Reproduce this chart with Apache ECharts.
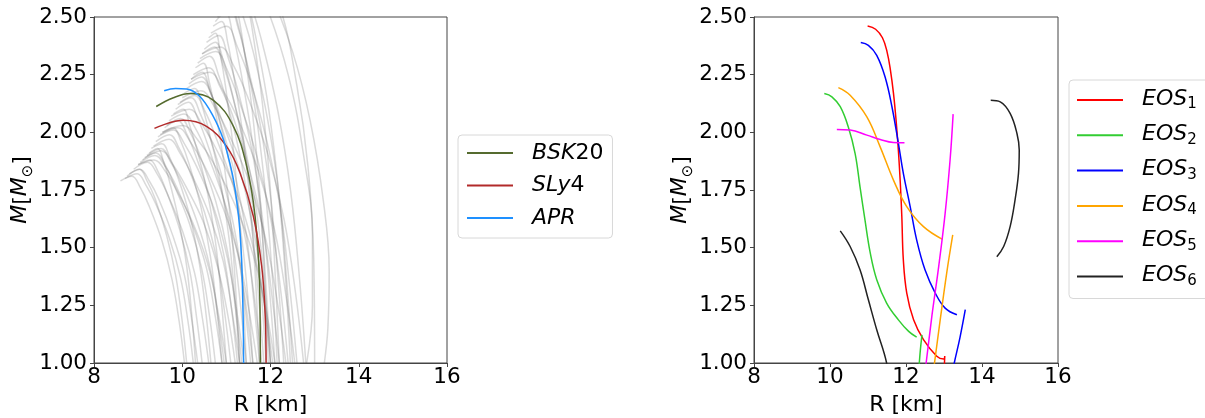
<!DOCTYPE html>
<html>
<head>
<meta charset="utf-8">
<script src="https://cdn.jsdelivr.net/npm/echarts@6/dist/echarts.min.js"></script>
<style>
  html, body { margin: 0; padding: 0; background: #fff; }
  #chart { width: 1205px; height: 418px; }
</style>
</head>
<body>
<div id="chart"></div>
<script>
// axis ticks
const xTicks = [8, 10, 12, 14, 16];
const yTicks = [1.0, 1.25, 1.5, 1.75, 2.0, 2.25, 2.5];

// left panel: reference EOS curves [R km, M Msun]
const bsk20 = [[9.41, 2.112], [9.8, 2.15], [10.18, 2.168], [10.7, 2.14], [11.16, 2.026], [11.46, 1.853], [11.65, 1.637], [11.75, 1.35], [11.77, 1.0]];
const sly4 = [[9.37, 2.017], [10.03, 2.052], [10.55, 2.026], [11.0, 1.94], [11.31, 1.824], [11.61, 1.637], [11.8, 1.42], [11.88, 1.204], [11.9, 1.0]];
const apr = [[9.59, 2.18], [9.85, 2.19], [10.1, 2.188], [10.4, 2.155], [10.7, 2.07], [10.93, 1.97], [11.06, 1.88], [11.16, 1.795], [11.25, 1.68], [11.31, 1.565], [11.35, 1.42], [11.37, 1.28], [11.385, 1.14], [11.39, 1.0]];

// left panel: sampled posterior curves (grey)
const grayCurves = [
  [[8.60, 1.79], [8.86, 1.81], [9.05, 1.76], [9.25, 1.68], [9.54, 1.53], [9.77, 1.36], [9.93, 1.18], [10.05, 1.0]],
  [[8.75, 1.81], [9.04, 1.84], [9.25, 1.79], [9.47, 1.71], [9.79, 1.55], [10.05, 1.38], [10.22, 1.18], [10.35, 1.0]],
  [[8.90, 1.84], [9.21, 1.87], [9.43, 1.82], [9.67, 1.73], [10.01, 1.57], [10.28, 1.39], [10.46, 1.19], [10.60, 1.0]],
  [[9.00, 1.86], [9.26, 1.88], [9.45, 1.83], [9.65, 1.74], [9.94, 1.58], [10.17, 1.40], [10.33, 1.19], [10.45, 1.0]],
  [[9.10, 1.88], [9.40, 1.91], [9.61, 1.86], [9.84, 1.76], [10.17, 1.60], [10.44, 1.41], [10.62, 1.20], [10.75, 1.0]],
  [[9.20, 1.90], [9.52, 1.93], [9.74, 1.87], [9.99, 1.78], [10.34, 1.61], [10.62, 1.42], [10.81, 1.20], [10.95, 1.0]],
  [[9.30, 1.93], [9.54, 1.95], [9.72, 1.89], [9.91, 1.80], [10.18, 1.63], [10.39, 1.43], [10.54, 1.21], [10.65, 1.0]],
  [[9.40, 1.96], [9.71, 1.99], [9.93, 1.93], [10.17, 1.83], [10.51, 1.65], [10.78, 1.45], [10.96, 1.22], [11.10, 1.0]],
  [[9.45, 1.98], [9.80, 2.01], [10.05, 1.95], [10.33, 1.85], [10.72, 1.67], [11.03, 1.45], [11.24, 1.22], [11.40, 1.0]],
  [[9.55, 2.00], [9.79, 2.02], [9.97, 1.96], [10.16, 1.86], [10.43, 1.67], [10.64, 1.46], [10.79, 1.22], [10.90, 1.0]],
  [[9.60, 2.02], [9.90, 2.05], [10.11, 1.99], [10.34, 1.88], [10.67, 1.69], [10.94, 1.47], [11.12, 1.23], [11.25, 1.0]],
  [[9.70, 2.05], [10.04, 2.08], [10.29, 2.02], [10.56, 1.91], [10.94, 1.71], [11.24, 1.49], [11.45, 1.24], [11.60, 1.0]],
  [[9.80, 2.08], [10.02, 2.10], [10.17, 2.03], [10.34, 1.92], [10.58, 1.73], [10.77, 1.50], [10.90, 1.24], [11.00, 1.0]],
  [[9.85, 2.10], [10.14, 2.13], [10.35, 2.06], [10.57, 1.95], [10.89, 1.75], [11.15, 1.51], [11.32, 1.25], [11.45, 1.0]],
  [[9.95, 2.13], [10.28, 2.16], [10.52, 2.09], [10.78, 1.97], [11.15, 1.77], [11.45, 1.52], [11.65, 1.26], [11.80, 1.0]],
  [[10.05, 2.17], [10.28, 2.19], [10.44, 2.12], [10.61, 2.00], [10.86, 1.79], [11.06, 1.54], [11.20, 1.26], [11.30, 1.0]],
  [[10.10, 2.19], [10.44, 2.22], [10.69, 2.15], [10.96, 2.02], [11.34, 1.81], [11.64, 1.55], [11.85, 1.27], [12.00, 1.0]],
  [[10.20, 2.23], [10.45, 2.26], [10.63, 2.18], [10.83, 2.06], [11.11, 1.83], [11.33, 1.57], [11.49, 1.28], [11.60, 1.0]],
  [[10.25, 2.25], [10.60, 2.28], [10.85, 2.20], [11.13, 2.08], [11.52, 1.84], [11.83, 1.58], [12.04, 1.28], [12.20, 1.0]],
  [[10.35, 2.30], [10.62, 2.33], [10.82, 2.25], [11.03, 2.12], [11.33, 1.88], [11.57, 1.60], [11.73, 1.29], [11.85, 1.0]],
  [[10.40, 2.32], [10.76, 2.35], [11.02, 2.27], [11.30, 2.13], [11.70, 1.89], [12.02, 1.61], [12.24, 1.30], [12.40, 1.0]],
  [[10.50, 2.36], [10.75, 2.39], [10.93, 2.31], [11.13, 2.17], [11.41, 1.92], [11.63, 1.63], [11.79, 1.31], [11.90, 1.0]],
  [[10.55, 2.39], [10.83, 2.42], [11.03, 2.33], [11.25, 2.19], [11.56, 1.94], [11.81, 1.64], [11.98, 1.31], [12.10, 1.0]],
  [[10.65, 2.43], [11.00, 2.46], [11.25, 2.37], [11.53, 2.23], [11.92, 1.96], [12.23, 1.66], [12.44, 1.32], [12.60, 1.0]],
  [[10.70, 2.46], [10.89, 2.48], [11.03, 2.39], [11.17, 2.24], [11.38, 1.98], [11.55, 1.67], [11.67, 1.33], [11.75, 1.0]],
  [[10.80, 2.50], [11.07, 2.54], [11.27, 2.45], [11.48, 2.29], [11.78, 2.02], [12.02, 1.69], [12.18, 1.34], [12.30, 1.0]],
  [[10.90, 2.55], [11.19, 2.59], [11.40, 2.49], [11.62, 2.34], [11.94, 2.05], [12.20, 1.72], [12.37, 1.35], [12.50, 1.0]],
  [[11.00, 2.60], [11.32, 2.65], [11.56, 2.55], [11.81, 2.39], [12.17, 2.09], [12.46, 1.74], [12.66, 1.36], [12.80, 1.0]],
  [[11.10, 2.65], [11.30, 2.70], [11.44, 2.60], [11.60, 2.43], [11.82, 2.12], [11.99, 1.77], [12.11, 1.37], [12.20, 1.0]],
  [[11.40, 2.80], [12.00, 2.60], [12.50, 2.35], [12.90, 2.05], [13.20, 1.70], [13.33, 1.40], [13.30, 1.15], [13.22, 1.0]],
  [[11.30, 2.80], [11.90, 2.55], [12.40, 2.25], [12.75, 1.90], [12.95, 1.55], [12.95, 1.25], [12.82, 1.0]],
  [[11.20, 2.70], [11.70, 2.72], [12.20, 2.55], [12.60, 2.20], [12.85, 1.85], [12.98, 1.45], [13.00, 1.0]],
  [[8.80, 1.82], [9.03, 1.84], [9.20, 1.79], [9.39, 1.71], [9.65, 1.55], [9.85, 1.38], [10.00, 1.18], [10.10, 1.0]],
  [[9.15, 1.89], [9.52, 1.92], [9.79, 1.86], [10.07, 1.77], [10.48, 1.61], [10.81, 1.41], [11.04, 1.20], [11.20, 1.0]],
  [[9.50, 1.99], [9.90, 2.02], [10.18, 1.96], [10.49, 1.86], [10.93, 1.67], [11.28, 1.46], [11.52, 1.22], [11.70, 1.0]],
  [[9.75, 2.07], [10.16, 2.10], [10.46, 2.03], [10.79, 1.92], [11.25, 1.73], [11.61, 1.50], [11.87, 1.24], [12.05, 1.0]],
  [[10.00, 2.15], [10.42, 2.18], [10.73, 2.11], [11.06, 1.99], [11.53, 1.78], [11.90, 1.53], [12.16, 1.26], [12.35, 1.0]],
  [[10.30, 2.28], [10.48, 2.30], [10.61, 2.22], [10.75, 2.09], [10.95, 1.86], [11.11, 1.59], [11.22, 1.29], [11.30, 1.0]],
  [[10.45, 2.34], [10.86, 2.37], [11.16, 2.29], [11.49, 2.15], [11.95, 1.90], [12.31, 1.62], [12.57, 1.30], [12.75, 1.0]],
  [[10.60, 2.41], [10.75, 2.43], [10.86, 2.34], [10.98, 2.20], [11.15, 1.94], [11.29, 1.64], [11.38, 1.31], [11.45, 1.0]],
  [[10.95, 2.58], [11.13, 2.62], [11.26, 2.52], [11.40, 2.36], [11.60, 2.07], [11.76, 1.73], [11.87, 1.36], [11.95, 1.0]],
  [[10.75, 2.48], [10.98, 2.52], [11.14, 2.43], [11.31, 2.28], [11.56, 2.00], [11.76, 1.68], [11.90, 1.33], [12.00, 1.0]],
  [[9.25, 1.91], [9.44, 1.93], [9.58, 1.87], [9.72, 1.78], [9.93, 1.61], [10.10, 1.42], [10.22, 1.20], [10.30, 1.0]],
  [[8.70, 1.80], [8.98, 1.82], [9.18, 1.77], [9.40, 1.69], [9.71, 1.54], [9.96, 1.37], [10.13, 1.18], [10.25, 1.0]],
  [[9.05, 1.87], [9.38, 1.90], [9.62, 1.85], [9.88, 1.76], [10.25, 1.59], [10.55, 1.41], [10.75, 1.20], [10.90, 1.0]],
  [[9.35, 1.94], [9.70, 1.97], [9.95, 1.91], [10.23, 1.81], [10.62, 1.64], [10.93, 1.44], [11.14, 1.21], [11.30, 1.0]],
  [[9.65, 2.03], [9.96, 2.06], [10.18, 2.00], [10.42, 1.89], [10.76, 1.70], [11.03, 1.48], [11.21, 1.23], [11.35, 1.0]],
  [[9.90, 2.12], [10.20, 2.15], [10.41, 2.08], [10.64, 1.97], [10.97, 1.76], [11.24, 1.52], [11.42, 1.25], [11.55, 1.0]],
  [[10.15, 2.21], [10.44, 2.24], [10.65, 2.17], [10.87, 2.04], [11.19, 1.82], [11.45, 1.56], [11.62, 1.27], [11.75, 1.0]],
  [[10.45, 2.34], [10.73, 2.37], [10.93, 2.29], [11.15, 2.15], [11.46, 1.90], [11.71, 1.62], [11.88, 1.30], [12.00, 1.0]],
  [[10.85, 2.53], [11.08, 2.57], [11.25, 2.48], [11.44, 2.32], [11.70, 2.04], [11.90, 1.71], [12.05, 1.35], [12.15, 1.0]],
  [[11.05, 2.62], [11.30, 2.67], [11.48, 2.57], [11.68, 2.40], [11.96, 2.10], [12.18, 1.75], [12.34, 1.37], [12.45, 1.0]],
  [[9.55, 2.00], [10.01, 2.03], [10.34, 1.97], [10.70, 1.87], [11.21, 1.68], [11.62, 1.46], [11.90, 1.23], [12.10, 1.0]],
  [[10.20, 2.23], [10.62, 2.26], [10.93, 2.18], [11.26, 2.06], [11.73, 1.83], [12.10, 1.57], [12.36, 1.28], [12.55, 1.0]],
  [[9.00, 1.86], [9.36, 1.88], [9.62, 1.83], [9.90, 1.74], [10.30, 1.58], [10.62, 1.40], [10.84, 1.19], [11.00, 1.0]]
];

// right panel: EOS_1..EOS_6 (some curves come in two pieces)
const eos1 = [[10.99, 2.461], [11.2, 2.447], [11.38, 2.41], [11.5, 2.35], [11.59, 2.27], [11.67, 2.17], [11.74, 2.05], [11.8, 1.92], [11.85, 1.78], [11.89, 1.635], [11.93, 1.447], [12.02, 1.303], [12.2, 1.187], [12.46, 1.101], [12.81, 1.029], [12.99, 1.017], [13.02, 1.03], [13.01, 0.99]];
const eos2 = [[9.85, 2.168], [10.05, 2.154], [10.27, 2.111], [10.48, 2.024], [10.66, 1.909], [10.79, 1.764], [10.92, 1.62], [11.06, 1.476], [11.23, 1.361], [11.49, 1.26], [11.8, 1.187], [12.07, 1.137], [12.28, 1.112]];
const eos2b = [[12.42, 1.122], [12.38, 1.06], [12.35, 1.0], [12.34, 0.98]];
const eos3 = [[10.81, 2.389], [11.01, 2.377], [11.23, 2.334], [11.45, 2.24], [11.63, 2.111], [11.8, 1.952], [11.93, 1.822], [12.11, 1.678], [12.28, 1.534], [12.5, 1.404], [12.77, 1.303], [13.03, 1.238], [13.34, 1.209]];
const eos3b = [[13.56, 1.231], [13.42, 1.11], [13.27, 1.0], [13.25, 0.98]];
const eos4 = [[10.22, 2.194], [10.53, 2.161], [10.97, 2.067], [11.32, 1.937], [11.67, 1.793], [12.02, 1.678], [12.46, 1.591], [12.96, 1.536]];
const eos4b = [[13.23, 1.555], [13.07, 1.389], [12.9, 1.187], [12.75, 1.0], [12.73, 0.98]];
const eos5 = [[10.18, 2.012], [10.53, 2.01], [10.97, 1.988], [11.32, 1.969], [11.67, 1.956], [11.96, 1.955]];
const eos5b = [[13.24, 2.079], [13.16, 1.88], [13.03, 1.649], [12.86, 1.418], [12.68, 1.202], [12.53, 1.0], [12.51, 0.98]];
const eos6 = [[10.27, 1.573], [10.53, 1.505], [10.79, 1.404], [11.01, 1.274], [11.23, 1.144], [11.49, 1.0], [11.5, 0.98]];
const eos6b = [[14.23, 2.139], [14.48, 2.132], [14.74, 2.082], [14.92, 1.995], [14.98, 1.923], [14.96, 1.822], [14.87, 1.707], [14.74, 1.591], [14.57, 1.505], [14.39, 1.461]];

const FONT = 'DejaVu Sans';
const chart = echarts.init(document.getElementById('chart'));

function xAxisFor(i) {
  return {
    type: 'value', gridIndex: i, min: xTicks[0], max: xTicks[xTicks.length - 1], interval: 2,
    name: 'R [km]', nameLocation: 'middle', nameGap: 31,
    nameTextStyle: { fontFamily: FONT, fontSize: 22, color: '#000' },
    axisLine: { show: true, onZero: false, lineStyle: { color: '#444', width: 1 } },
    axisTick: { show: true, inside: false, length: 4, lineStyle: { color: '#444' } },
    axisLabel: { fontFamily: FONT, fontSize: 21.5, color: '#000', margin: 3 },
    splitLine: { show: false }
  };
}
function yAxisFor(i) {
  return {
    type: 'value', gridIndex: i, min: yTicks[0], max: yTicks[yTicks.length - 1], interval: 0.25,
    name: '{i|M}[{i|M}{s|⊙}]', nameLocation: 'middle', nameGap: 58, nameRotate: 90,
    nameTextStyle: {
      fontFamily: FONT, fontSize: 22, color: '#000',
      rich: {
        i: { fontFamily: FONT, fontSize: 22, fontStyle: 'italic', color: '#000', lineHeight: 26, verticalAlign: 'top' },
        s: { fontFamily: FONT, fontSize: 15, color: '#000', lineHeight: 26, verticalAlign: 'bottom' }
      }
    },
    axisLine: { show: true, lineStyle: { color: '#444', width: 1 } },
    axisTick: { show: true, inside: false, length: 4, lineStyle: { color: '#444' } },
    axisLabel: { fontFamily: FONT, fontSize: 21.5, color: '#000', margin: 7, formatter: v => v.toFixed(2) },
    splitLine: { show: false }
  };
}

function line(name, data, color, xi, width, opacity) {
  return {
    name: name, type: 'line', xAxisIndex: xi, yAxisIndex: xi, data: data,
    symbol: 'none', smooth: 0.4, clip: true, silent: true,
    lineStyle: { color: color, width: width || 1.5, opacity: opacity == null ? 1 : opacity },
    itemStyle: { color: color },
    z: 3
  };
}

const series = [];
grayCurves.forEach((c, k) => {
  const s = line('gray' + k, c, '#555555', 0, 1.5, 0.22);
  s.z = 1;
  series.push(s);
});
series.push(line('BSK20', bsk20, '#556b2f', 0));
series.push(line('SLy4', sly4, '#b22a2a', 0));
series.push(line('APR', apr, '#1e90ff', 0));

series.push(line('EOS1', eos1, '#ff0000', 1));
series.push(line('EOS2', eos2, '#32cd32', 1));
series.push(line('EOS2', eos2b, '#32cd32', 1));
series.push(line('EOS3', eos3, '#0000ff', 1));
series.push(line('EOS3', eos3b, '#0000ff', 1));
series.push(line('EOS4', eos4, '#ffa500', 1));
series.push(line('EOS4', eos4b, '#ffa500', 1));
series.push(line('EOS5', eos5, '#ff00ff', 1));
series.push(line('EOS5', eos5b, '#ff00ff', 1));
series.push(line('EOS6', eos6, '#222222', 1));
series.push(line('EOS6', eos6b, '#222222', 1));

const legendBase = {
  orient: 'vertical', icon: 'rect', itemWidth: 46, itemHeight: 2,
  backgroundColor: '#fff', borderColor: '#d8d8d8', borderWidth: 1, borderRadius: 4,
  inactiveColor: '#000', selectedMode: false
};

const option = {
  animation: false,
  backgroundColor: '#fff',
  grid: [
    { left: 94, top: 17, width: 353, height: 346, outerBoundsMode: 'none', containLabel: false, show: true, borderColor: '#444', borderWidth: 1, backgroundColor: 'transparent' },
    { left: 754, top: 17, width: 304, height: 346, outerBoundsMode: 'none', containLabel: false, show: true, borderColor: '#444', borderWidth: 1, backgroundColor: 'transparent' }
  ],
  xAxis: [xAxisFor(0), xAxisFor(1)],
  yAxis: [yAxisFor(0), yAxisFor(1)],
  legend: [
    Object.assign({}, legendBase, {
      left: 458, top: 135, itemGap: 10.5, padding: [7, 9, 9, 9],
      data: ['BSK20', 'SLy4', 'APR'],
      formatter: n => '{i|' + n.replace(/(\d+)/g, '}{d|$1}{i|') + '}',
      textStyle: {
        fontFamily: FONT, fontSize: 22, color: '#000', padding: [0, 0, 0, 14],
        rich: {
          i: { fontFamily: FONT, fontSize: 22, fontStyle: 'italic', color: '#000', lineHeight: 24 },
          d: { fontFamily: FONT, fontSize: 22, color: '#000', lineHeight: 24 }
        }
      }
    }),
    Object.assign({}, legendBase, {
      left: 1069, top: 80, itemGap: 11.3, padding: [8, 40, 10, 8],
      data: ['EOS1', 'EOS2', 'EOS3', 'EOS4', 'EOS5', 'EOS6'],
      formatter: n => '{i|EOS}{s|' + n.slice(3) + '}',
      textStyle: {
        fontFamily: FONT, fontSize: 22, color: '#000', padding: [0, 0, 0, 14],
        rich: {
          i: { fontFamily: FONT, fontSize: 22, fontStyle: 'italic', color: '#000', lineHeight: 24, verticalAlign: 'top' },
          s: { fontFamily: FONT, fontSize: 15, color: '#000', lineHeight: 24, verticalAlign: 'bottom', padding: [8, 0, 0, 0] }
        }
      }
    })
  ],
  series: series
};

chart.setOption(option);
</script>
</body>
</html>
